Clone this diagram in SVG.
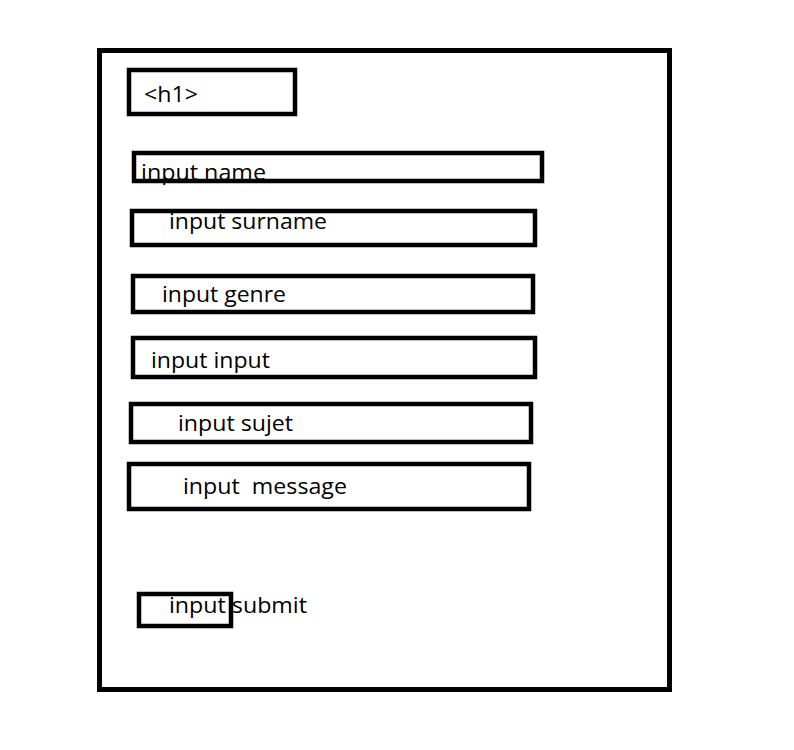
<svg xmlns="http://www.w3.org/2000/svg" width="794" height="750" viewBox="0 0 794 750">
<style>
.b{fill:none;stroke:#000;stroke-width:4.5}
.t{font-family:"Open Sans","Noto Sans",sans-serif;font-size:21px;fill:#000}
</style>
<rect width="794" height="750" fill="#fff"/>
<g id="page"><rect class="b" x="99.5" y="50.5" width="570" height="639" style="stroke-width:5"/></g>
<g id="h1"><rect class="b" x="129" y="70" width="166" height="44"/><text class="t" x="144" y="102" textLength="54" lengthAdjust="spacingAndGlyphs">&lt;h1&gt;</text></g>
<g id="name"><rect class="b" x="134" y="153" width="408" height="28"/><text class="t" x="141" y="180" textLength="125" lengthAdjust="spacingAndGlyphs">input name</text></g>
<g id="surname"><rect class="b" x="132" y="211" width="403" height="34"/><text class="t" x="169" y="229" textLength="158" lengthAdjust="spacingAndGlyphs">input surname</text></g>
<g id="genre"><rect class="b" x="133" y="276" width="400" height="36"/><text class="t" x="162" y="302" textLength="124" lengthAdjust="spacingAndGlyphs">input genre</text></g>
<g id="input"><rect class="b" x="133" y="338" width="402" height="39"/><text class="t" x="151" y="368" textLength="119" lengthAdjust="spacingAndGlyphs">input input</text></g>
<g id="sujet"><rect class="b" x="131" y="404" width="400" height="38"/><text class="t" x="178" y="431" textLength="115" lengthAdjust="spacingAndGlyphs">input sujet</text></g>
<g id="message"><rect class="b" x="129" y="464" width="400" height="45"/><text class="t" x="183" y="494" textLength="164" lengthAdjust="spacingAndGlyphs" xml:space="preserve">input  message</text></g>
<g id="submit"><rect class="b" x="139" y="594" width="92" height="32"/><text class="t" x="169" y="613" textLength="138" lengthAdjust="spacingAndGlyphs">input submit</text></g>
<g id="connectors"/>
</svg>
